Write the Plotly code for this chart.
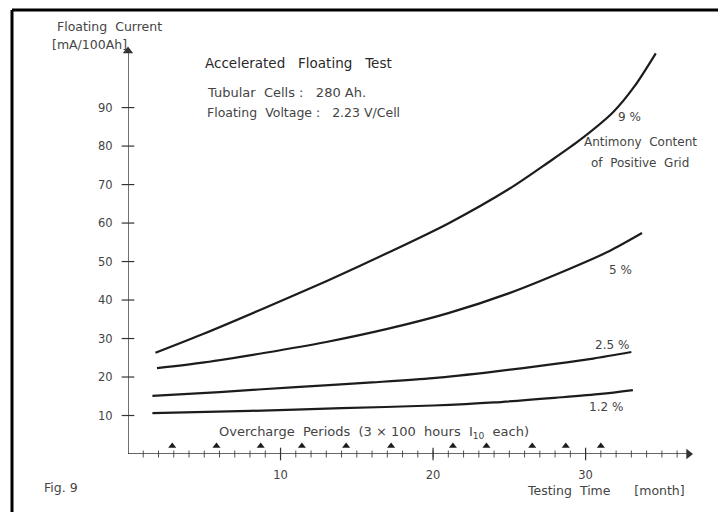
import plotly.graph_objects as go

# ---------------- data ----------------
t_9 = [1.8, 5.0, 9.0, 13.0, 17.0, 21.0, 25.0, 27.5, 29.5, 31.8, 33.2, 34.6]
v_9 = [26.3, 31.3, 38.0, 44.9, 52.2, 59.9, 68.9, 75.6, 81.2, 88.8, 95.5, 104.1]

t_5 = [1.9, 5.0, 9.0, 13.0, 17.0, 21.0, 25.0, 29.0, 31.5, 33.7]
v_5 = [22.3, 23.8, 26.3, 29.1, 32.5, 36.6, 41.8, 48.2, 52.6, 57.4]

t_25 = [1.6, 6.0, 11.0, 16.0, 20.0, 24.0, 28.0, 30.5, 33.0]
v_25 = [15.1, 16.1, 17.4, 18.6, 19.7, 21.4, 23.4, 24.8, 26.5]

t_12 = [1.6, 8.0, 14.0, 20.0, 24.0, 28.0, 31.0, 33.1]
v_12 = [10.6, 11.2, 11.9, 12.6, 13.4, 14.6, 15.6, 16.6]

overcharge_t = [2.9, 5.8, 8.7, 11.4, 14.3, 17.25, 21.3, 23.5, 26.5, 28.7, 31.0]
overcharge_level = 2.1

x_major_ticks = [10, 20, 30]
x_minor_ticks = list(range(1, 37))
y_ticks = [10, 20, 30, 40, 50, 60, 70, 80, 90]

series_labels = ["9 %", "5 %", "2.5 %", "1.2 %"]

X_RANGE = [0, 37.5]
Y_RANGE = [0, 106]
X_AXIS_END = 37.0
Y_AXIS_END = 105.7

# ---------------- figure ----------------
INK = "#1c1c1c"
AXC = "#333333"
TXT = "#444444"
FONT = "DejaVu Sans"

ML, MT, PW, PH = 120, 38, 572, 408  # plot area in figure pixels

fig = go.Figure()

for tt, vv in [(t_9, v_9), (t_5, v_5), (t_25, v_25), (t_12, v_12)]:
    fig.add_trace(go.Scatter(x=tt, y=vv, mode="lines",
                             line=dict(color=INK, width=2.2, shape="spline", smoothing=0.8),
                             cliponaxis=False, hoverinfo="skip", showlegend=False))

# overcharge period markers
fig.add_trace(go.Scatter(x=overcharge_t, y=[overcharge_level] * len(overcharge_t), mode="markers",
                         marker=dict(symbol="triangle-up", size=7, color=INK),
                         cliponaxis=False, showlegend=False, hoverinfo="skip"))

# axis tick marks crossing the axes
fig.add_trace(go.Scatter(x=x_minor_ticks, y=[0] * len(x_minor_ticks), mode="markers",
                         marker=dict(symbol="line-ns", size=5, line=dict(color="#555", width=1)),
                         cliponaxis=False, showlegend=False, hoverinfo="skip"))
fig.add_trace(go.Scatter(x=x_major_ticks, y=[0] * len(x_major_ticks), mode="markers",
                         marker=dict(symbol="line-ns", size=9, line=dict(color=AXC, width=1.2)),
                         cliponaxis=False, showlegend=False, hoverinfo="skip"))
fig.add_trace(go.Scatter(x=[0] * len(y_ticks), y=y_ticks, mode="markers",
                         marker=dict(symbol="line-ew", size=9, line=dict(color=AXC, width=1.2)),
                         cliponaxis=False, showlegend=False, hoverinfo="skip"))

# arrow heads of the axes
fig.add_trace(go.Scatter(x=[X_AXIS_END - 0.25], y=[0], mode="markers",
                         marker=dict(symbol="triangle-right", size=9, color=AXC),
                         cliponaxis=False, showlegend=False, hoverinfo="skip"))
fig.add_trace(go.Scatter(x=[0], y=[Y_AXIS_END - 1.0], mode="markers",
                         marker=dict(symbol="triangle-up", size=9, color=AXC),
                         cliponaxis=False, showlegend=False, hoverinfo="skip"))

annotations = []


def txt(px, py, s, size=12, anchor="left", color=TXT):
    # px, py: page pixel position of the text (page has an 8px body margin)
    annotations.append(dict(x=(px - 8 - ML) / PW, y=(MT + PH - (py - 8)) / PH,
                            xref="paper", yref="paper",
                            text=s, showarrow=False, xanchor=anchor, yanchor="middle",
                            font=dict(family=FONT, size=size, color=color)))


txt(109, 27, "Floating  Current", size=12.5, anchor="center")
txt(89, 44, "[mA/100Ah]", size=12.5, anchor="center")
txt(203, 63, "Accelerated   Floating   Test", size=13.5, color="#2a2a2a")
txt(205, 92, "Tubular  Cells :   280 Ah.", size=13)
txt(205, 113, "Floating  Voltage :   2.23 V/Cell", size=12.5)
txt(629, 117, series_labels[0], size=12, anchor="center")
txt(640, 142, "Antimony  Content", size=12, anchor="center")
txt(640, 163, "of  Positive  Grid", size=12, anchor="center")
txt(620, 270, series_labels[1], size=12, anchor="center")
txt(612, 345, series_labels[2], size=12, anchor="center")
txt(606, 407, series_labels[3], size=12, anchor="center")
txt(217, 432, "Overcharge  Periods  (3 × 100  hours  I<sub>10</sub>  each)", size=13)
txt(525, 491, "Testing  Time      [month]", size=12.5)
txt(42, 488, "Fig. 9", size=12.5)

# axes lines + frame (left and top edges visible in reference)
fx = (12 - 8 - ML) / PW
fy = (MT + PH - (10 - 8)) / PH
shapes = [
    dict(type="line", xref="x", yref="y", x0=-0.3, x1=X_AXIS_END - 0.3, y0=0, y1=0,
         line=dict(color=AXC, width=1.4)),
    dict(type="line", xref="x", yref="y", x0=0, x1=0, y0=0, y1=Y_AXIS_END - 1.0,
         line=dict(color=AXC, width=1.4)),
    dict(type="line", xref="paper", yref="paper", x0=fx, x1=fx, y0=fy, y1=-0.3,
         line=dict(color="black", width=3)),
    dict(type="line", xref="paper", yref="paper", x0=fx, x1=1.2, y0=fy, y1=fy,
         line=dict(color="black", width=3)),
]

fig.update_layout(
    width=726, height=512,
    margin=dict(l=ML, r=726 - ML - PW, t=MT, b=512 - MT - PH),
    paper_bgcolor="white", plot_bgcolor="white",
    showlegend=False,
    annotations=annotations,
    shapes=shapes,
    xaxis=dict(range=X_RANGE, showgrid=False, zeroline=False, showline=False,
               tickvals=x_major_ticks, ticks="outside", ticklen=10,
               tickcolor="rgba(0,0,0,0)", tickfont=dict(family=FONT, size=11.5, color=TXT),
               fixedrange=True),
    yaxis=dict(range=Y_RANGE, showgrid=False, zeroline=False, showline=False,
               tickvals=y_ticks, ticks="outside", ticklen=12,
               tickcolor="rgba(0,0,0,0)", tickfont=dict(family=FONT, size=11.5, color=TXT),
               fixedrange=True),
)

fig.write_html("out.html")
